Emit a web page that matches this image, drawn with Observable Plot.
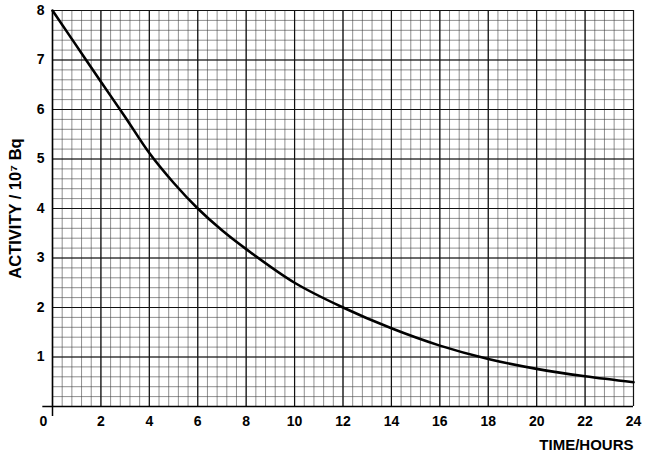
<!DOCTYPE html>
<html>
<head>
<meta charset="utf-8">
<script src="https://cdn.jsdelivr.net/npm/d3@7"></script>
<script src="https://cdn.jsdelivr.net/npm/@observablehq/plot@0.6"></script>
<style>
  html, body { margin: 0; padding: 0; background: #fff; }
  #chart { width: 648px; height: 455px; }
</style>
</head>
<body>
<div id="chart"></div>
<script>
// Data
const timeHours = [0, 1, 2, 3, 4, 5, 6, 7, 8, 10, 12, 14, 16, 18, 20, 22, 24];
const activity  = [8.0, 7.28, 6.56, 5.85, 5.12, 4.52, 4.0, 3.56, 3.18, 2.5, 2.0, 1.58, 1.23, 0.96, 0.76, 0.61, 0.49];
const xTickLabels = [2, 4, 6, 8, 10, 12, 14, 16, 18, 20, 22, 24];
const originLabel = [0];
const yTickLabels = [1, 2, 3, 4, 5, 6, 7, 8];
const xMinorGrid = d3.range(0, 24.001, 0.4).map(v => +v.toFixed(2));
const yMinorGrid = d3.range(0, 8.001, 0.2).map(v => +v.toFixed(2));
const xMajorGrid = d3.range(0, 24.001, 2);
const yMajorGrid = d3.range(0, 8.001, 1);

const data = timeHours.map((t, i) => ({t, a: activity[i]}));
const font = "'Liberation Sans', Arial, sans-serif";

const chart = Plot.plot({
  width: 648,
  height: 455,
  marginLeft: 52,
  marginRight: 15,
  marginTop: 10,
  marginBottom: 49,
  style: {fontFamily: font, fontSize: "14px", color: "#000", background: "#fff"},
  x: {domain: [0, 24], axis: null},
  y: {domain: [0, 8], axis: null},
  marks: [
    Plot.ruleX(xMinorGrid, {stroke: "#444", strokeOpacity: 0.6, strokeWidth: 1}),
    Plot.ruleY(yMinorGrid, {stroke: "#444", strokeOpacity: 0.6, strokeWidth: 1}),
    Plot.ruleX(xMajorGrid, {stroke: "#111", strokeWidth: 1.2}),
    Plot.ruleY(yMajorGrid, {stroke: "#111", strokeWidth: 1.2}),
    Plot.ruleX([0], {y1: -0.2, y2: 8, stroke: "#000", strokeWidth: 1.5}),
    Plot.ruleY([0], {x1: -0.4, x2: 24, stroke: "#000", strokeWidth: 1.5}),
    Plot.text(xTickLabels, {x: d => d, y: d => 0, text: d => String(d), dy: 15, fontSize: 14, fontWeight: "bold"}),
    Plot.text(originLabel, {x: d => d, y: d => 0, text: d => String(d), dx: -9, dy: 15, fontSize: 14, fontWeight: "bold"}),
    Plot.text(yTickLabels, {x: d => 0, y: d => d, text: d => String(d), dx: -8, textAnchor: "end", fontSize: 14, fontWeight: "bold"}),
    Plot.text(["TIME/HOURS"], {frameAnchor: "bottom-right", dy: 43, fontSize: 15, fontWeight: "bold"}),
    Plot.text(["ACTIVITY / 10⁷ Bq"], {frameAnchor: "left", rotate: -90, dx: -37, textAnchor: "middle", lineAnchor: "middle", fontSize: 16.5, fontWeight: "bold"}),
    Plot.line(data, {x: "t", y: "a", curve: "catmull-rom", stroke: "#000", strokeWidth: 2.6})
  ]
});
document.getElementById("chart").appendChild(chart);
</script>
</body>
</html>
